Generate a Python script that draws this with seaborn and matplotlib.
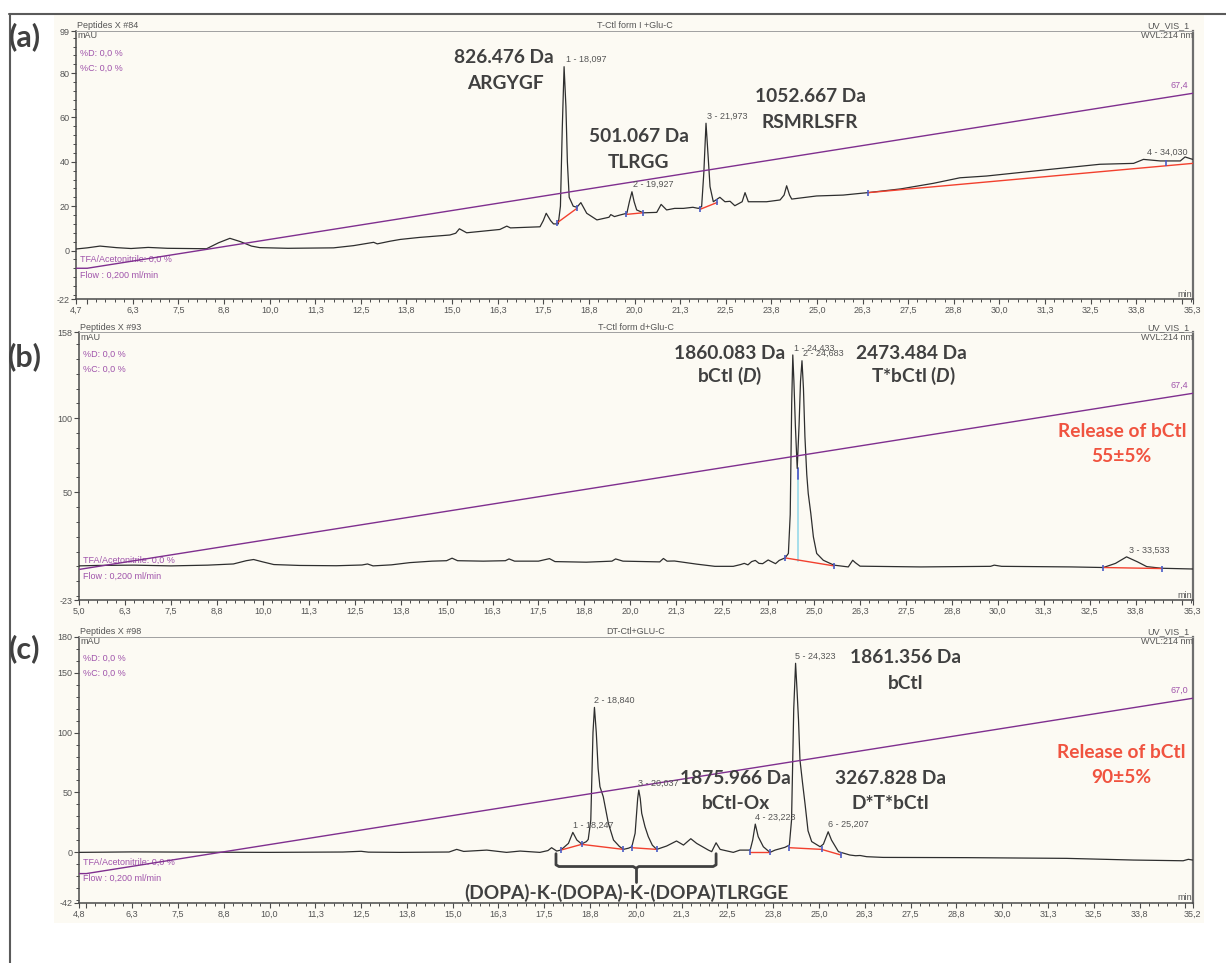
import matplotlib

matplotlib.use('Agg')

import numpy as np
import seaborn as sns
from matplotlib import pyplot as plt
from matplotlib.lines import Line2D
from matplotlib.patches import Rectangle

W, H = 1226, 963

# ---------------- panel (a): T-Ctl form I + Glu-C ----------------
a_time = [4.7, 5.0, 5.35, 5.8, 6.2, 6.67, 7.2, 8.27, 8.6, 8.91, 9.2, 9.5, 9.73, 10.5, 11.75,
          12.3, 12.85, 12.95, 13.3, 13.58, 14.1, 14.94, 15.1, 15.2, 15.4, 16.31, 16.5, 16.6,
          17.41, 17.5, 17.58, 17.7, 17.78, 17.91, 17.97, 18.02, 18.07, 18.12, 18.16, 18.21,
          18.32, 18.42, 18.53, 18.69, 18.97, 19.3, 19.35, 19.45, 19.6, 19.79, 19.86, 19.93,
          19.99, 20.06, 20.24, 20.61, 20.73, 20.88, 21.1, 21.34, 21.6, 21.75, 21.84, 21.9,
          21.96, 22.02, 22.07, 22.16, 22.34, 22.48, 22.62, 22.75, 22.95, 23.03, 23.12, 23.62,
          23.99, 24.1, 24.17, 24.25, 24.31, 24.99, 25.72, 26.45, 27.3, 28.19, 28.92, 29.65,
          31.39, 32.76, 33.68, 33.95, 34.41, 34.96, 35.09, 35.3]
a_signal = [0.7, 1.2, 2.0, 1.3, 0.9, 1.4, 1.0, 0.8, 3.5, 5.5, 4.0, 2.0, 1.3, 1.0, 1.2,
            2.2, 3.7, 3.0, 4.2, 5.0, 5.9, 7.0, 7.8, 9.8, 8.0, 9.5, 11.0, 10.2,
            10.7, 13.5, 16.8, 13.5, 12.0, 12.0, 20.0, 55.0, 82.9, 65.0, 40.0, 24.0,
            20.0, 19.5, 21.6, 16.8, 13.8, 15.0, 16.2, 15.3, 16.0, 16.8, 22.0, 26.5,
            22.0, 18.3, 17.0, 17.2, 20.8, 18.3, 19.0, 19.0, 19.5, 19.0, 19.8, 35.0,
            57.4, 42.0, 28.8, 22.0, 24.0, 22.0, 22.2, 20.2, 22.0, 26.1, 22.0, 22.0,
            22.8, 25.0, 29.2, 25.0, 23.2, 24.6, 25.0, 26.2, 27.8, 30.3, 32.8, 33.6,
            36.6, 38.9, 39.3, 41.1, 40.4, 40.4, 42.2, 41.1]
a_grad_time = [4.7, 5.0, 35.3]
a_grad = [-8.0, -8.0, 70.9]
a_base_time = [[17.88, 18.42], [19.78, 20.22], [21.80, 22.27], [26.41, 35.3]]
a_base = [[12.5, 19.0], [16.3, 17.0], [18.6, 21.7], [26.1, 39.3]]
a_mark_time = [17.88, 18.42, 19.78, 20.22, 21.80, 22.27, 26.41, 34.56]
a_mark = [12.5, 19.0, 16.3, 17.0, 18.6, 21.7, 26.1, 39.5]
a_peak_rt = [18.097, 19.927, 21.973, 34.030]
a_peak_top = [82.9, 26.5, 57.4, 41.1]
a_peak_lbl = ['1 - 18,097', '2 - 19,927', '3 - 21,973', '4 - 34,030']

# ---------------- panel (b): T-Ctl form d + Glu-C ----------------
b_time = [5.0, 5.5, 6.5, 7.5, 8.5, 9.2, 9.55, 9.75, 10.0, 10.3, 11.0, 12.0, 12.7, 12.85, 13.0,
          13.5, 14.0, 14.6, 15.0, 15.15, 15.3, 16.0, 16.6, 16.7, 16.85, 17.5, 17.8, 17.95,
          18.8, 19.5, 19.6, 19.8, 20.8, 20.9, 21.0, 21.2, 21.8, 22.3, 22.8, 23.0, 23.1, 23.2,
          23.3, 23.4, 23.5, 23.6, 23.75, 23.95, 24.05, 24.21, 24.30, 24.35, 24.39, 24.42,
          24.45, 24.49, 24.54, 24.59, 24.63, 24.67, 24.71, 24.75, 24.80, 24.84, 24.91, 24.98,
          25.07, 25.25, 25.54, 25.93, 26.05, 26.12, 26.25, 27.9, 29.8, 29.9, 30.1, 32.0,
          32.87, 33.2, 33.5, 33.8, 34.05, 34.46, 35.3]
b_signal = [0.3, 0.6, 0.8, 0.3, 0.8, 1.6, 3.8, 4.6, 3.0, 1.2, 0.6, 0.4, 0.9, 1.6, 0.3,
            1.0, 2.5, 3.5, 3.8, 5.5, 3.8, 3.5, 3.8, 5.0, 3.5, 3.5, 5.2, 3.2,
            2.8, 3.5, 5.0, 3.5, 3.0, 5.3, 3.5, 3.6, 1.5, 0.0, 0.0, 1.2, 2.0, 1.0,
            3.2, 4.0, 2.0, 1.8, 4.3, 1.8, 4.0, 5.7, 8.7, 35.0, 110.0, 142.7,
            125.0, 95.0, 66.1, 95.0, 125.0, 138.8, 120.0, 87.5, 62.0, 49.2, 35.7, 19.9,
            8.7, 4.1, 0.8, -0.4, 4.1, 2.5, 0.1, -0.4, 0.0, 0.8, 0.0, -0.4,
            -0.8, 2.0, 6.4, 3.0, -0.2, -1.3, -1.8]
b_grad_time = [5.0, 35.3]
b_grad = [-2.1, 116.8]
b_base_time = [[24.21, 25.54], [32.87, 34.46]]
b_base = [[5.7, 0.3], [-0.8, -1.5]]
b_mark_time = [24.21, 25.54, 32.87, 34.46]
b_mark = [5.7, 0.3, -0.8, -1.5]
b_drop_time = 24.55
b_drop = [3.4, 59.0, 66.1]
b_peak_rt = [24.433, 24.683, 33.533]
b_peak_top = [142.7, 138.8, 6.4]
b_peak_lbl = ['1 - 24,433', '2 - 24,683', '3 - 33,533']

# ---------------- panel (c): DT-Ctl + GLU-C ----------------
c_time = [4.8, 6.3, 8.0, 10.0, 12.0, 12.5, 12.7, 13.56, 14.9, 15.11, 15.3, 15.93, 16.47,
          16.84, 17.38, 17.6, 17.70, 17.84, 17.95, 18.16, 18.28, 18.39, 18.52, 18.65, 18.70,
          18.77, 18.83, 18.87, 18.92, 18.97, 19.02, 19.11, 19.25, 19.39, 19.55, 19.66, 19.80,
          19.89, 19.98, 20.05, 20.08, 20.12, 20.16, 20.25, 20.34, 20.45, 20.57, 20.84, 21.11,
          21.30, 21.50, 21.66, 21.98, 22.07, 22.19, 22.30, 22.66, 22.84, 23.12, 23.19, 23.26,
          23.34, 23.48, 23.66, 23.80, 24.07, 24.19, 24.25, 24.31, 24.36, 24.40, 24.44, 24.48,
          24.55, 24.62, 24.70, 24.80, 25.03, 25.12, 25.25, 25.34, 25.53, 25.84, 26.0, 26.12,
          26.3, 26.75, 29.03, 31.76, 33.58, 34.94, 35.08, 35.2]
c_signal = [0.0, 0.4, 0.2, 0.0, 0.3, 0.9, 0.2, 0.0, 0.3, 2.5, 0.8, 1.9, 0.0,
            1.1, 0.0, 1.5, 3.9, 1.1, 1.9, 7.5, 16.7, 10.3, 7.0, 9.0, 10.8,
            27.0, 100.0, 121.0, 100.0, 70.0, 54.8, 46.5, 24.2, 10.3, 5.0, 2.5, 3.5,
            4.7, 15.9, 45.0, 52.0, 45.0, 32.6, 21.4, 13.1, 6.0, 2.5, 5.3, 9.5,
            6.1, 11.4, 7.5, 1.9, 0.6, 8.0, 2.5, 0.0, 1.9, 1.9, 10.3, 23.6,
            13.1, 4.7, 0.0, 1.9, 4.2, 6.1, 27.0, 120.0, 157.8, 135.0, 110.5, 77.1,
            58.0, 40.0, 18.0, 9.0, 4.7, 6.9, 17.2, 10.3, 0.6, -2.2, -2.8, -2.6,
            -3.6, -4.2, -4.4, -5.0, -6.4, -7.0, -5.8, -6.4]
c_grad_time = [4.8, 5.0, 35.2]
c_grad = [-17.7, -17.7, 128.6]
c_base_time = [[17.95, 18.52, 19.66], [19.89, 20.57], [23.12, 23.66], [24.19, 25.07, 25.60]]
c_base = [[1.9, 6.7, 2.5], [3.9, 2.5], [0.0, 0.0], [3.9, 2.5, -2.2]]
c_mark_time = [17.95, 18.52, 19.66, 19.89, 20.57, 23.12, 23.66, 24.19, 25.07, 25.60]
c_mark = [1.9, 6.7, 2.5, 3.9, 2.5, 0.0, 0.0, 3.9, 2.5, -2.2]
c_peak_rt = [18.247, 18.840, 20.037, 23.223, 24.323, 25.207]
c_peak_top = [16.7, 121.0, 52.0, 23.6, 157.8, 17.2]
c_peak_lbl = ['1 - 18,247', '2 - 18,840', '3 - 20,037', '4 - 23,223', '5 - 24,323', '6 - 25,207']
c_bracket_time = [17.82, 22.19]
c_bracket = [-1.1, -11.8, -24.5]

# shared axis ticks (min)
x_major = [5.0, 6.25, 7.5, 8.75, 10.0, 11.25, 12.5, 13.75, 15.0, 16.25, 17.5, 18.75, 20.0,
           21.25, 22.5, 23.75, 25.0, 26.25, 27.5, 28.75, 30.0, 31.25, 32.5, 33.75, 35.0]
x_major_labels = ['5,0', '6,3', '7,5', '8,8', '10,0', '11,3', '12,5', '13,8', '15,0', '16,3',
                  '17,5', '18,8', '20,0', '21,3', '22,5', '23,8', '25,0', '26,3', '27,5',
                  '28,8', '30,0', '31,3', '32,5', '33,8', '35,0']

CREAM = '#fcfaf3'
TRACE = '#2e2e2e'
PURPLE = '#7f2f8f'
PURPLE_TXT = '#a054ab'
RED = '#f2402e'
BLUE = '#4a5cc6'
CYAN = '#9fdcea'
GREY_TXT = '#555555'
BIG_TXT = '#404040'
RED_TXT = '#f0533f'

sns.set_theme(style='ticks')
plt.rcParams['font.family'] = ['Liberation Sans', 'DejaVu Sans']
plt.rcParams['mathtext.fontset'] = 'custom'
plt.rcParams['mathtext.it'] = 'Lato:italic:bold'
plt.rcParams['mathtext.rm'] = 'Lato:bold'

fig = plt.figure(figsize=(W / 100, H / 100), dpi=100)
fig.patch.set_facecolor('white')
fig.add_artist(Rectangle((54 / W, 1 - 923 / H), 1150 / W, 908 / H, transform=fig.transFigure,
                         facecolor=CREAM, edgecolor='none', zorder=-5))
fig.add_artist(Line2D([9 / W, 1], [1 - 14 / H, 1 - 14 / H], transform=fig.transFigure,
                      color='#5a5a5a', lw=1.5))
fig.add_artist(Line2D([10 / W, 10 / W], [1 - 14 / H, 0], transform=fig.transFigure,
                      color='#5a5a5a', lw=1.5))


def px_rect(l, t, r, b):
    return [l / W, 1 - b / H, (r - l) / W, (b - t) / H]


def chromatogram(box, t, sig, grad_t, grad, grad_lbl, base_t, base, mark_t, mark,
                 peak_rt, peak_top, peak_lbl, yticks, ylabels, yminor, run, title):
    ax = fig.add_axes(px_rect(*box))
    ax.set_facecolor(CREAM)
    sns.lineplot(x=t, y=sig, ax=ax, color=TRACE, lw=0.9, sort=False, estimator=None, zorder=3)
    sns.lineplot(x=grad_t, y=grad, ax=ax, color=PURPLE, lw=1.0, sort=False, estimator=None, zorder=4)
    for bt, bv in zip(base_t, base):
        ax.plot(bt, bv, color=RED, lw=1.0, zorder=5)
    ax.plot(mark_t, mark, ls='none', marker='|', ms=4.5, mew=1.2, color=BLUE, zorder=6)

    t0, t1 = t[0], t[-1]
    ax.set_xlim(t0, t1)
    ax.set_ylim(yticks[-1], yticks[0])

    ticks = [t0] + [v for v in x_major if t0 + 0.05 < v < t1 - 0.05] + [t1]
    labels = []
    for v in ticks:
        if v in (t0, t1):
            labels.append(('%.1f' % v).replace('.', ','))
        elif v - t0 < 0.6 or t1 - v < 0.6:
            labels.append('')
        else:
            labels.append(x_major_labels[x_major.index(v)])
    ax.set_xticks(ticks)
    ax.set_xticklabels(labels)
    ax.set_xticks(np.arange(5.0, t1, 0.25), minor=True)
    ax.set_yticks(yticks)
    ax.set_yticklabels(ylabels)
    ax.set_yticks(np.arange(np.ceil(yticks[-1] / yminor) * yminor, yticks[0], yminor), minor=True)

    ax.tick_params(which='major', direction='out', length=3.6, width=0.8, color='#4a4a4a',
                   labelsize=6.5, labelcolor=GREY_TXT, pad=1.2)
    ax.tick_params(which='minor', direction='out', length=2.0, width=0.7, color='#4a4a4a')
    ax.set_xlabel('')
    ax.set_ylabel('')
    for side in ['left', 'bottom']:
        ax.spines[side].set_color('#4a4a4a')
        ax.spines[side].set_linewidth(1.1)
    ax.spines['top'].set_color('#a0a0a0')
    ax.spines['top'].set_linewidth(0.7)
    ax.spines['right'].set_color('#6e6e6e')
    ax.spines['right'].set_linewidth(1.6)

    small = dict(fontsize=6.5, color=GREY_TXT, xycoords='axes fraction', textcoords='offset pixels')
    purple = dict(fontsize=6.5, color=PURPLE_TXT, xycoords='axes fraction', textcoords='offset pixels')
    ax.annotate(run, xy=(0, 1), xytext=(1, 5), ha='left', va='center', **small)
    ax.annotate(title, xy=(0.5, 1), xytext=(0, 5), ha='center', va='center', **small)
    ax.annotate('UV_VIS_1', xy=(1, 1), xytext=(-3, 5), ha='right', va='center', **small)
    ax.annotate('mAU', xy=(0, 1), xytext=(1, -5), ha='left', va='center', **small)
    ax.annotate('WVL:214 nm', xy=(1, 1), xytext=(0, -5), ha='right', va='center', **small)
    ax.annotate('min', xy=(1, 0), xytext=(-1, 5), ha='right', va='center', **small)
    ax.annotate('%D: 0,0 %', xy=(0, 1), xytext=(4, -22), ha='left', va='center', **purple)
    ax.annotate('%C: 0,0 %', xy=(0, 1), xytext=(4, -37), ha='left', va='center', **purple)
    ax.annotate('TFA/Acetonitrile: 0,0 %', xy=(0, 0), xytext=(4, 40), ha='left', va='center', **purple)
    ax.annotate('Flow : 0,200 ml/min', xy=(0, 0), xytext=(4, 24), ha='left', va='center', **purple)
    ax.annotate(grad_lbl, xy=(grad_t[-1], grad[-1]), xytext=(-5, 8), textcoords='offset pixels',
                ha='right', va='center', fontsize=6.5, color=PURPLE_TXT)
    for rt, top, lbl in zip(peak_rt, peak_top, peak_lbl):
        ax.annotate(lbl, xy=(rt, top), xytext=(1, 7), textcoords='offset pixels',
                    ha='left', va='center', fontsize=6.5, color=GREY_TXT, zorder=7)
    return ax


big = dict(family='Lato', weight='bold', fontsize=13.8, color=BIG_TXT, ha='center', va='center', zorder=8)
red = dict(big, color=RED_TXT)

ax_a = chromatogram((76.3, 31, 1192.7, 299.3), a_time, a_signal, a_grad_time, a_grad, '67,4',
                    a_base_time, a_base, a_mark_time, a_mark, a_peak_rt, a_peak_top, a_peak_lbl,
                    [99, 80, 60, 40, 20, 0, -22], ['99', '80', '60', '40', '20', '0', '-22'], 4,
                    'Peptides X #84', 'T-Ctl form I +Glu-C')
ax_a.text(16.42, 87.0, '826.476 Da', **big)
ax_a.text(16.47, 75.4, 'ARGYGF', **big)
ax_a.text(20.12, 51.3, '501.067 Da', **big)
ax_a.text(20.12, 39.6, 'TLRGG', **big)
ax_a.text(24.81, 69.4, '1052.667 Da', **big)
ax_a.text(24.81, 57.6, 'RSMRLSFR', **big)

ax_b = chromatogram((79, 332.3, 1192.7, 600.4), b_time, b_signal, b_grad_time, b_grad, '67,4',
                    b_base_time, b_base, b_mark_time, b_mark, b_peak_rt, b_peak_top, b_peak_lbl,
                    [158, 100, 50, -23], ['158', '100', '50', '-23'], 10,
                    'Peptides X #93', 'T-Ctl form d+Glu-C')
ax_b.plot([b_drop_time, b_drop_time], b_drop[:2], color=CYAN, lw=1.3, zorder=2)
ax_b.plot([b_drop_time, b_drop_time], b_drop[1:], color=BLUE, lw=1.3, zorder=2)
ax_b.text(22.71, 143.8, '1860.083 Da', **big)
ax_b.text(22.71, 128.5, 'bCtl ($D$)', **big)
ax_b.text(27.64, 143.8, '2473.484 Da', **big)
ax_b.text(27.69, 128.5, 'T*bCtl ($D$)', **big)
ax_b.text(33.37, 90.8, 'Release of bCtl', **red)
ax_b.text(33.37, 73.9, '55±5%', **red)

ax_c = chromatogram((79, 636.7, 1192.7, 902.7), c_time, c_signal, c_grad_time, c_grad, '67,0',
                    c_base_time, c_base, c_mark_time, c_mark, c_peak_rt, c_peak_top, c_peak_lbl,
                    [180, 150, 100, 50, 0, -42], ['180', '150', '100', '50', '0', '-42'], 10,
                    'Peptides X #98', 'DT-Ctl+GLU-C')
ax_c.text(27.37, 162.5, '1861.356 Da', **big)
ax_c.text(27.37, 141.1, 'bCtl', **big)
ax_c.text(22.73, 61.8, '1875.966 Da', **big)
ax_c.text(22.73, 40.9, 'bCtl-Ox', **big)
ax_c.text(26.95, 61.8, '3267.828 Da', **big)
ax_c.text(26.95, 40.9, 'D*T*bCtl', **big)
ax_c.text(33.26, 83.2, 'Release of bCtl', **red)
ax_c.text(33.26, 62.3, '90±5%', **red)

# curly bracket under the DOPA peaks
bl, br = c_bracket_time
top, mid, bot = c_bracket
cm = (bl + br) / 2
ax_c.plot([bl, bl, bl + 0.08, cm - 0.08, cm, cm + 0.08, br - 0.08, br, br],
          [top, mid + 1.4, mid, mid, mid - 1.4, mid, mid, mid + 1.4, top],
          color=BIG_TXT, lw=2.0, zorder=8, solid_joinstyle='round')
ax_c.plot([cm, cm], [mid - 1.4, bot], color=BIG_TXT, lw=2.0, zorder=8)
ax_c.text(19.75, -34.2, '(DOPA)-K-(DOPA)-K-(DOPA)TLRGGE', **big)

for lbl, y in [('(a)', 37), ('(b)', 357), ('(c)', 649)]:
    fig.text(25 / W, 1 - y / H, lbl, family='Lato', weight='bold', fontsize=22,
             color=BIG_TXT, ha='center', va='center')

fig.savefig('out.png', dpi=100, facecolor='white')
